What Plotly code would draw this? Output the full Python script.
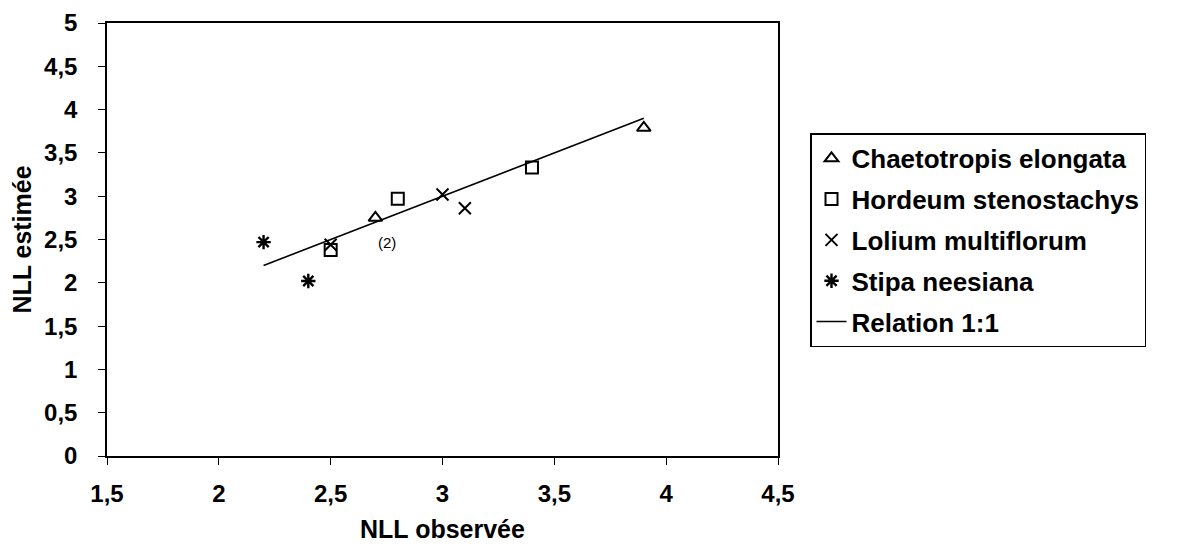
import plotly.graph_objects as go

# Data
chaeto_x = [2.7, 3.9]
chaeto_y = [2.75, 3.79]
hordeum_x = [2.5, 2.8, 3.4]
hordeum_y = [2.38, 2.97, 3.33]
lolium_x = [2.5, 3.0, 3.1]
lolium_y = [2.44, 3.02, 2.86]
stipa_x = [2.2, 2.4]
stipa_y = [2.47, 2.02]
relation_x = [2.2, 3.9]
relation_y = [2.2, 3.9]

x_ticks = [1.5, 2, 2.5, 3, 3.5, 4, 4.5]
y_ticks = [0, 0.5, 1, 1.5, 2, 2.5, 3, 3.5, 4, 4.5, 5]

FONT = "Liberation Sans, Arial, sans-serif"
mline = dict(color="black", width=2)

fig = go.Figure()
fig.add_trace(go.Scatter(x=chaeto_x, y=chaeto_y, mode="markers", name="Chaetotropis elongata",
                         legendgroup="a",
                         marker=dict(symbol="triangle-up-open", size=12, color="black", line=mline)))
fig.add_trace(go.Scatter(x=hordeum_x, y=hordeum_y, mode="markers", name="Hordeum stenostachys",
                         legendgroup="b",
                         marker=dict(symbol="square-open", size=12, color="black", line=mline)))
fig.add_trace(go.Scatter(x=lolium_x, y=lolium_y, mode="markers", name="Lolium multiflorum",
                         legendgroup="c",
                         marker=dict(symbol="x-thin-open", size=12, color="black", line=mline)))
fig.add_trace(go.Scatter(x=stipa_x, y=stipa_y, mode="markers", name="Stipa neesiana",
                         legendgroup="d",
                         marker=dict(symbol="asterisk-open", size=12, color="black", line=dict(color="black", width=2.4))))
fig.add_trace(go.Scatter(x=relation_x, y=relation_y, mode="lines", name="Relation 1:1",
                         legendgroup="e",
                         line=dict(color="black", width=1.6)))

fig.add_annotation(x=2.75, y=2.47, text="(2)", showarrow=False,
                   font=dict(family=FONT, size=15, color="black", weight="normal"))

axis_common = dict(showline=True, linecolor="black", linewidth=1.5, mirror=True,
                   ticks="outside", ticklen=7, tickcolor="black", tickwidth=1,
                   showgrid=False, zeroline=False, automargin=False,
                   tickfont=dict(family=FONT, size=24, color="black", weight="bold"))

fig.update_xaxes(range=[1.5, 4.5], tickvals=x_ticks, ticklabelstandoff=8,
                 title=dict(text="NLL observée", font=dict(family=FONT, size=25, color="black", weight="bold"), standoff=15),
                 **axis_common)
fig.update_yaxes(range=[0, 5], tickvals=y_ticks, ticklabelstandoff=16,
                 title=dict(text="NLL estimée", font=dict(family=FONT, size=25, color="black", weight="bold"), standoff=12),
                 **axis_common)

# page body has an 8px margin, so the figure is sized/offset to land the plot area where the reference has it
fig.update_layout(
    width=1170, height=549,
    margin=dict(l=99, r=400, t=15, b=101),
    paper_bgcolor="white", plot_bgcolor="white",
    separators=", ",
    font=dict(family=FONT, size=24, color="black", weight="bold"),
    legend=dict(x=1.0477, y=0.745, xanchor="left", yanchor="top",
                bordercolor="black", borderwidth=1.5, bgcolor="white",
                tracegroupgap=4, itemwidth=30,
                entrywidth=320, entrywidthmode="pixels",
                font=dict(family=FONT, size=26, color="black", weight="bold")),
)

fig.write_html("out.html")
